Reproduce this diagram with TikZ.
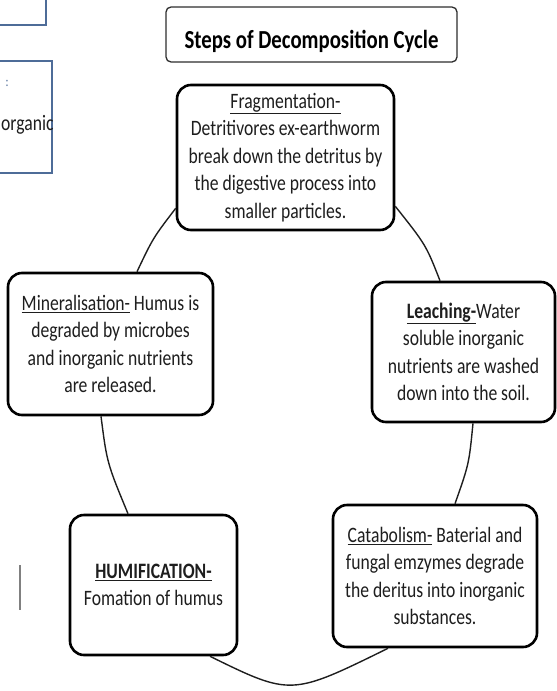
\documentclass[tikz,border=0pt]{standalone}
\usepackage{fontspec}
\setmainfont[FakeStretch=0.8]{Carlito}
\usetikzlibrary{calc}

\definecolor{inkgray}{HTML}{1E1E1E}
\definecolor{framegray}{HTML}{2E2E2E}
\definecolor{sideblue}{HTML}{4E6C98}

\tikzset{
  stage/.style={draw=black, line width=2.6pt, rounded corners=14pt,
    fill=white, align=center, inner sep=0pt, text=inkgray,
    font=\fontsize{22}{27.5}\selectfont},
  titlebox/.style={draw=framegray, line width=1.3pt, rounded corners=5pt,
    fill=white, inner sep=0pt, text=black,
    font=\fontsize{26}{30}\selectfont\bfseries},
  sidebox/.style={draw=sideblue, line width=2.4pt, fill=white, inner sep=0pt},
  link/.style={draw=inkgray, line width=1.4pt}
}

\begin{document}
\begin{tikzpicture}[x=1pt,y=-1pt]
\useasboundingbox (0,0) rectangle (557,691);
\clip (0,0) rectangle (557,691);

% partly visible panels on the left edge
\node[sidebox, minimum width=56pt, minimum height=34pt] (sideA) at (18,8) {};
\node[sidebox, minimum width=62pt, minimum height=112pt] (sideB) at (21,117) {};
\node[text=sideblue, inner sep=0pt, font=\fontsize{14}{16}\selectfont] (colon) at (7,83) {:};
\node[anchor=west, inner sep=0pt, text=inkgray, font=\fontsize{22}{27.5}\selectfont] (orgword) at (1,125) {organic};
\coordinate (tickTop) at (20,565);
\coordinate (tickBot) at (20,610);
\draw[draw=gray, line width=1.2pt] (tickTop) -- (tickBot);

% heading
\node[titlebox, minimum width=291pt, minimum height=55pt] (title) at (311.5,34.5)
  {\raisebox{-13.5pt}[0pt][0pt]{Steps of Decomposition Cycle}};

% the five stages of the cycle
\node[stage, minimum width=217pt, minimum height=145pt] (frag) at (285.5,157.5)
  {\underline{Fragmentation-}\\
   Detritivores ex-earthworm\\
   break down the detritus by\\
   the digestive process into\\
   smaller particles.};

\node[stage, minimum width=183pt, minimum height=140pt] (leach) at (463.5,352)
  {\underline{\textbf{Leaching-}}Water\\
   soluble inorganic\\
   nutrients are washed\\
   down into the soil.};

\node[stage, minimum width=204pt, minimum height=142pt] (catab) at (435,576)
  {\underline{Catabolism-} Baterial and\\
   fungal emzymes degrade\\
   the deritus into inorganic\\
   substances.};

\node[stage, minimum width=167pt, minimum height=140pt] (humif) at (153.5,585)
  {\underline{\textbf{HUMIFICATION-}}\\
   Fomation of humus};

\node[stage, minimum width=205pt, minimum height=142pt] (miner) at (110.5,344)
  {\underline{Mineralisation-} Humus is\\
   degraded by microbes\\
   and inorganic nutrients\\
   are released.};

% arcs joining the stages
\draw[link] ([yshift=25pt]frag.south east) .. controls (426,245) .. ([xshift=-23.5pt]leach.north);
\draw[link] ([xshift=9.5pt]leach.south) .. controls (469,464) .. ([xshift=20pt]catab.north);
\draw[link] ([xshift=-47pt]catab.south) .. controls (291,696) .. ([xshift=56.5pt]humif.south);
\draw[link] ([xshift=-25.5pt]humif.north) .. controls (107,463) .. ([xshift=-9.5pt]miner.south);
\draw[link] ([xshift=26.5pt]miner.north) .. controls (153,238) .. ([yshift=23pt]frag.south west);
\end{tikzpicture}
\end{document}
